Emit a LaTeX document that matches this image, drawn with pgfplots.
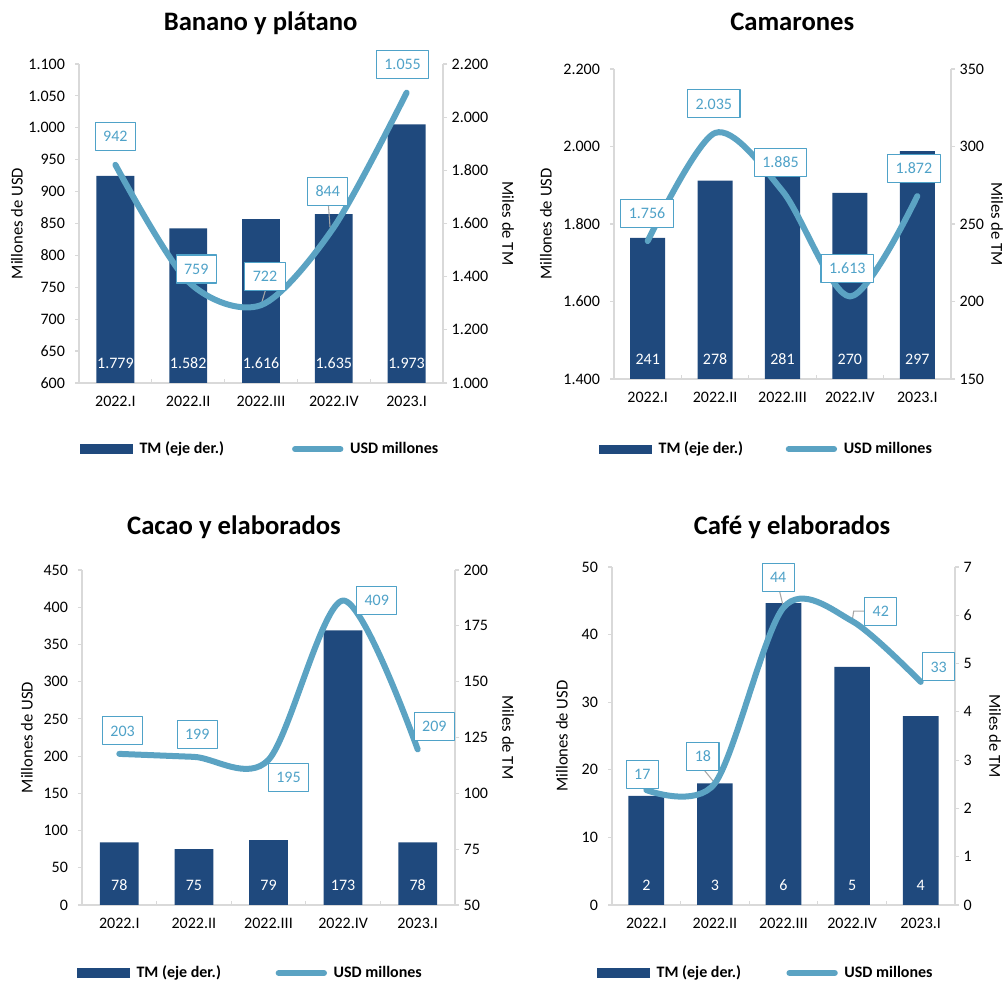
\documentclass[border=0pt]{standalone}
\usepackage{pgfplots}
\pgfplotsset{compat=1.18}
\usepackage{pgfplotstable}
\usepackage{fontspec}
\setmainfont{Carlito}

\definecolor{barc}{HTML}{1F497D}
\definecolor{linec}{HTML}{5BA3C3}
\definecolor{labc}{HTML}{4FA2C8}
\definecolor{axc}{HTML}{D9D9D9}
\definecolor{leadc}{HTML}{A6A6A6}

% x: quarter index, tm: thousands of tonnes, usd: USD millions,
% dx/dy: offset (pt) of the value box from its point
\pgfplotstableread{
x tm usd dx dy
0 1779 942 0 21
1 1582 759 6 9.4
2 1616 722 3 21.75
3 1635 844 -4.5 27
4 1973 1055 -3 21
}\banano

\pgfplotstableread{
x tm usd dx dy
0 241 1756 -0.5 21
1 278 2035 -1 21.75
2 281 1885 -1.5 21.75
3 270 1613 -2 21
4 297 1872 -2.5 21
}\camarones

\pgfplotstableread{
x tm usd dx dy
0 78 203 2.5 17.25
1 75 199 2.5 17
2 79 195 15 -13.5
3 173 409 25.2 0
4 78 209 12.5 17.5
}\cacao

\pgfplotstableread{
x tm usd dx dy
0 2.26 17 -3 12
1 2.52 18 -9 20.25
2 6.25 44 -4 22.5
3 4.93 42 21.5 7.5
4 3.91 33 13.5 11.25
}\cafe

\pgfplotsset{
  panel/.style={
    scale only axis, xmin=-0.5, xmax=4.5, clip=false,
    tick label style={font=\fontsize{12}{14}\selectfont, text=black},
    /pgf/number format/fixed,
    /pgf/number format/precision=0,
    /pgf/number format/1000 sep={.},
    /pgf/number format/assume math mode=true,
    axis line style={axc, line width=1.1pt},
    tick style={axc, line width=0.9pt},
    major tick length=3pt,
  },
  tmaxis/.style={panel,
    axis y line*=right, axis x line*=bottom,
    ytick align=outside,
    xtick={-0.5,0.5,...,4.5}, xticklabels={,,,,,,},
    xtick align=inside,
    extra x ticks={0,1,2,3,4},
    extra x tick labels={2022.I,2022.II,2022.III,2022.IV,2023.I},
    extra x tick style={major tick length=0pt, xticklabel style={yshift=-6pt}},
  },
  usdaxis/.style={panel,
    axis y line*=left, axis x line=none, xtick=\empty,
    ytick align=outside,
    yticklabel style={xshift=-4pt},
    legend style={anchor=west, draw=none, fill=none, legend columns=2,
      font=\bfseries\fontsize{12}{14}\selectfont,
      /tikz/every odd column/.append style={column sep=3pt},
      cells={anchor=west}},
  },
  legsep/.style={legend style={/tikz/every even column/.append style={column sep=#1}}},
  tmbars/.style={ybar, bar width=0.52, fill=barc, draw=none},
  tmvals/.style={draw=none, mark=none, nodes near coords, point meta=\thisrow{tm},
    nodes near coords style={text=white, anchor=center, yshift=15pt,
      font=\fontsize{12}{14}\selectfont}},
  usdline/.style={linec, line width=4.5pt, smooth, line cap=round, line join=round,
    nodes near coords, point meta=y,
    visualization depends on={\thisrow{dx}\as\dx},
    visualization depends on={\thisrow{dy}\as\dy},
    every node near coord/.append style={draw=labc, fill=white, text=labc,
      line width=0.8pt, anchor=center, inner xsep=6pt, inner ysep=4pt,
      minimum height=21pt, font=\fontsize{12}{14}\selectfont,
      xshift={\dx*1pt}, yshift={\dy*1pt}},
    legend image code/.code={\draw[linec, line width=4.5pt, line cap=round]
      (2.5pt,0pt) -- (36.5pt,0pt);}},
  barlegend/.style={legend image code/.code={\fill[barc] (0pt,-3.2pt) rectangle (39pt,3.2pt);}},
  rlabel/.style={every axis y label/.style={at={(axis description cs:1,0.5)},
    xshift=#1, rotate=-90, anchor=center, font=\fontsize{12.5}{15}\selectfont}},
  llabel/.style={every axis y label/.style={at={(axis description cs:0,0.5)},
    xshift=#1, rotate=90, anchor=center, font=\fontsize{12.5}{15}\selectfont}},
}

\begin{document}
\begin{tikzpicture}
\path[use as bounding box] (0,0) rectangle (754.5pt,738pt);

% ---------------- Banano y plátano ----------------
\node[font=\bfseries\fontsize{20}{24}\selectfont, anchor=base] at (195.4pt,715pt) {Banano y plátano};
\begin{axis}[tmaxis, at={(59.25pt,450.75pt)}, anchor=south west,
  width=273pt, height=239.25pt,
  ymin=1000, ymax=2200, ytick={1000,1200,...,2200},
  ylabel={Miles de TM}, rlabel=48.75pt]
  \addplot[tmbars] table[x=x, y=tm] {\banano};
  \addplot[tmvals] table[x=x, y expr=1000] {\banano};
\end{axis}
\begin{axis}[usdaxis, at={(59.25pt,450.75pt)}, anchor=south west,
  width=273pt, height=239.25pt,
  ymin=600, ymax=1100, ytick={600,650,...,1100},
  ylabel={Millones de USD}, llabel=-46.5pt,
  legend style={at={(-0.008,-0.207)}}, legsep=49pt]
  \addlegendimage{barlegend}
  \addlegendentry{TM (eje der.)}
  \draw[leadc, line width=0.8pt] (axis cs:2,722) -- ++(3.5pt,11.8pt);
  \draw[leadc, line width=0.8pt] ([xshift=-2.8pt]axis cs:3,844) -- ++(-1.3pt,17.5pt);
  \addplot[usdline] table[x=x, y=usd] {\banano};
  \addlegendentry{USD millones}
\end{axis}

% ---------------- Camarones ----------------
\node[font=\bfseries\fontsize{20}{24}\selectfont, anchor=base] at (594.2pt,715pt) {Camarones};
\begin{axis}[tmaxis, at={(460.5pt,453.75pt)}, anchor=south west,
  width=252.75pt, height=232.5pt,
  ymin=150, ymax=350, ytick={150,200,...,350},
  ylabel={Miles de TM}, rlabel=34.5pt]
  \addplot[tmbars] table[x=x, y=tm] {\camarones};
  \addplot[tmvals] table[x=x, y expr=150] {\camarones};
\end{axis}
\begin{axis}[usdaxis, at={(460.5pt,453.75pt)}, anchor=south west,
  width=252.75pt, height=232.5pt,
  ymin=1400, ymax=2200, ytick={1400,1600,...,2200},
  ylabel={Millones de USD}, llabel=-51pt,
  legend style={at={(-0.056,-0.226)}}, legsep=30pt]
  \addlegendimage{barlegend}
  \addlegendentry{TM (eje der.)}
  \addplot[usdline] table[x=x, y=usd] {\camarones};
  \addlegendentry{USD millones}
\end{axis}

% ---------------- Cacao y elaborados ----------------
\node[font=\bfseries\fontsize{20}{24}\selectfont, anchor=base] at (175.5pt,336.75pt) {Cacao y elaborados};
\begin{axis}[tmaxis, at={(61.5pt,59.25pt)}, anchor=south west,
  width=279.75pt, height=251.25pt,
  ymin=50, ymax=200, ytick={50,75,...,200},
  ylabel={Miles de TM}, rlabel=39.75pt]
  \addplot[tmbars] table[x=x, y=tm] {\cacao};
  \addplot[tmvals] table[x=x, y expr=50] {\cacao};
\end{axis}
\begin{axis}[usdaxis, at={(61.5pt,59.25pt)}, anchor=south west,
  width=279.75pt, height=251.25pt,
  ymin=0, ymax=450, ytick={0,50,...,450},
  ylabel={Millones de USD}, llabel=-41.25pt,
  legend style={at={(-0.024,-0.203)}}, legsep=39pt]
  \addlegendimage{barlegend}
  \addlegendentry{TM (eje der.)}
  \addplot[usdline] table[x=x, y=usd] {\cacao};
  \addlegendentry{USD millones}
\end{axis}

% ---------------- Café y elaborados ----------------
\node[font=\bfseries\fontsize{20}{24}\selectfont, anchor=base] at (594pt,336.75pt) {Café y elaborados};
\begin{axis}[tmaxis, at={(459pt,59.25pt)}, anchor=south west,
  width=257.25pt, height=253.5pt,
  ymin=0, ymax=7, ytick={0,1,...,7},
  ylabel={Miles de TM}, rlabel=30pt]
  \addplot[tmbars] table[x=x, y=tm] {\cafe};
  \addplot[tmvals] table[x=x, y expr=0] {\cafe};
\end{axis}
\begin{axis}[usdaxis, at={(459pt,59.25pt)}, anchor=south west,
  width=257.25pt, height=253.5pt,
  ymin=0, ymax=50, ytick={0,10,...,50},
  ylabel={Millones de USD}, llabel=-37.5pt,
  legend style={at={(-0.055,-0.201)}}, legsep=32pt]
  \addlegendimage{barlegend}
  \addlegendentry{TM (eje der.)}
  \draw[leadc, line width=0.8pt] (axis cs:1,18) -- ++(-8.5pt,10.5pt);
  \draw[leadc, line width=0.8pt] (axis cs:2,44) -- ++(-3pt,12.5pt);
  \draw[leadc, line width=0.8pt] (axis cs:3,42) -- ++(1.2pt,7.5pt) -- ++(8.25pt,0pt);
  \addplot[usdline] table[x=x, y=usd] {\cafe};
  \addlegendentry{USD millones}
\end{axis}
\end{tikzpicture}
\end{document}
